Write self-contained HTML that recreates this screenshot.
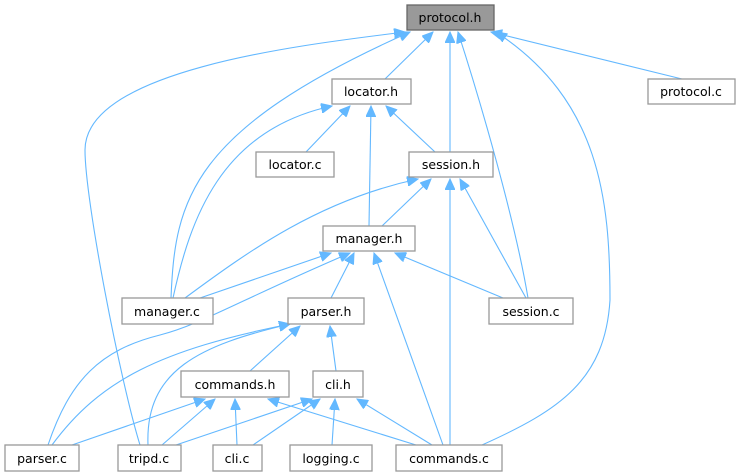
<!DOCTYPE html>
<html><head><style>
body{margin:0;background:#fff;}
svg{display:block;font-family:"DejaVu Sans","Liberation Sans",sans-serif;}
rect{fill:#fff;stroke:#999;stroke-width:1.3;}
text{font-size:12.5px;text-anchor:middle;fill:#000;}
path{fill:none;stroke:#63b8ff;stroke-width:1.1;}
</style></head><body>
<svg width="737" height="476" viewBox="0 0 737 476">
<defs><marker id="a" markerWidth="12" markerHeight="10" refX="11" refY="5" orient="auto" markerUnits="userSpaceOnUse"><path d="M0,0 L11,5 L0,10 z" style="fill:#63b8ff;stroke:#63b8ff;stroke-width:1"/></marker></defs>
<g marker-end="url(#a)">
<!-- protocol.h -->
<path d="M385,79 L433,32"/>
<path d="M682,79 L491,32"/>
<path d="M450,152 L450,32"/>
<path d="M171,298 C175,200 190,130 410,32"/>
<path d="M140,445 C120,380 85,200 85,150 C85,70 300,45 405,32"/>
<path d="M528,298 C515,220 480,100 458,32"/>
<path d="M482,445 C560,410 605,380 610,300 C610,200 600,100 496,32"/>
<!-- locator.h -->
<path d="M306,152 L350,106"/>
<path d="M435,152 L386,106"/>
<path d="M369,226 L371,106"/>
<path d="M173,298 C190,220 220,130 332,106"/>
<!-- session.h -->
<path d="M382,226 L431,179"/>
<path d="M185,298 C250,250 320,200 418,179"/>
<path d="M526,298 L460,179"/>
<path d="M450,445 L450,179"/>
<!-- manager.h -->
<path d="M200,298 L331,253"/>
<path d="M48,445 C70,380 100,350 160,335 C200,325 240,300 350,253"/>
<path d="M331,298 L354,253"/>
<path d="M443,445 L374,253"/>
<path d="M503,298 L395,253"/>
<!-- parser.h -->
<path d="M52,445 C100,380 160,350 290,324"/>
<path d="M148,445 C145,370 200,345 290,324"/>
<path d="M250,371 L300,326"/>
<path d="M336,371 L330,326"/>
<!-- commands.h -->
<path d="M72,445 L205,399"/>
<path d="M162,445 L215,399"/>
<path d="M237,445 L235,399"/>
<path d="M416,445 L268,399"/>
<!-- cli.h -->
<path d="M176,445 L312,399"/>
<path d="M253,445 L320,399"/>
<path d="M332,445 L335,399"/>
<path d="M432,445 L357,399"/>
</g>
<rect x="407" y="5" width="87" height="25" style="fill:#999;stroke:#666"/><text x="450" y="22">protocol.h</text>
<rect x="332" y="79" width="79" height="25"/><text x="371" y="96">locator.h</text>
<rect x="648" y="79" width="87" height="25"/><text x="691" y="96">protocol.c</text>
<rect x="256" y="152" width="78" height="25"/><text x="295" y="169">locator.c</text>
<rect x="409" y="152" width="84" height="25"/><text x="451" y="169">session.h</text>
<rect x="323" y="226" width="92" height="25"/><text x="369" y="243">manager.h</text>
<rect x="122" y="298" width="91" height="26"/><text x="167" y="316">manager.c</text>
<rect x="288" y="298" width="76" height="26"/><text x="326" y="316">parser.h</text>
<rect x="489" y="298" width="84" height="26"/><text x="531" y="316">session.c</text>
<rect x="181" y="371" width="108" height="26"/><text x="235" y="389">commands.h</text>
<rect x="313" y="371" width="50" height="26"/><text x="338" y="389">cli.h</text>
<rect x="5" y="445" width="74" height="26"/><text x="42" y="463">parser.c</text>
<rect x="118" y="445" width="63" height="26"/><text x="149" y="463">tripd.c</text>
<rect x="213" y="445" width="49" height="26"/><text x="237" y="463">cli.c</text>
<rect x="290" y="445" width="82" height="26"/><text x="331" y="463">logging.c</text>
<rect x="396" y="445" width="106" height="26"/><text x="449" y="463">commands.c</text>
</svg>
</body></html>
